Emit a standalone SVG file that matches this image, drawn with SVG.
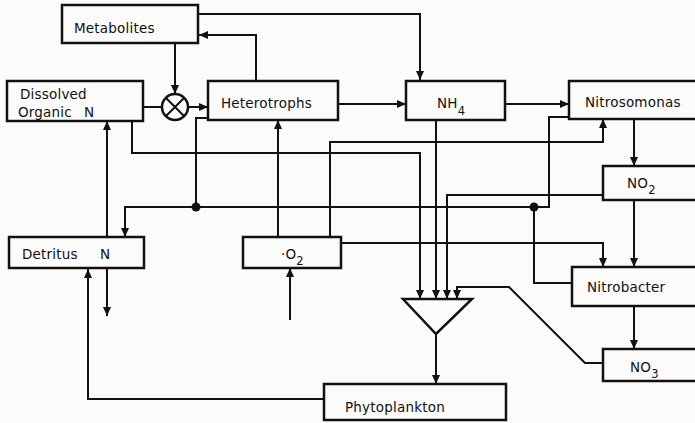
<svg xmlns="http://www.w3.org/2000/svg" width="695" height="423" viewBox="0 0 695 423">
<defs>
<marker id="ah" markerUnits="userSpaceOnUse" markerWidth="10" markerHeight="8" refX="9" refY="4" orient="auto">
<path d="M0,0 L9,4 L0,8 Z" fill="#111"/>
</marker>
<style>
.box{fill:#fbfbfa;stroke:#111;stroke-width:2.5}
.ln{fill:none;stroke:#111;stroke-width:2}
.ar{marker-end:url(#ah)}
text{font-family:"DejaVu Sans","Liberation Sans",sans-serif;font-size:13.5px;fill:#111;letter-spacing:0.2px}
.sub{font-size:11.5px}
</style>
</defs>
<rect width="695" height="423" fill="#fbfbfa"/>
<g id="connectors">
<path class="ln ar" d="M198,14 H420 V80"/>
<path class="ln ar" d="M256,81 V35 H199"/>
<path class="ln ar" d="M175,43 V94"/>
<path class="ln" d="M143,107 H162"/>
<path class="ln ar" d="M188,107 H208"/>
<path class="ln ar" d="M338,104 H406"/>
<path class="ln ar" d="M505,104 H569"/>
<path class="ln ar" d="M634,119 V166"/>
<path class="ln ar" d="M634,200 V267"/>
<path class="ln ar" d="M634,306 V349"/>
<path class="ln ar" d="M132,121 V153 H420 V299"/>
<path class="ln ar" d="M436,120 V299"/>
<path class="ln ar" d="M603,195 H447 V299"/>
<path class="ln ar" d="M603,363 H585 L509,287 H457 V299"/>
<path class="ln ar" d="M436,334 V384"/>
<path class="ln ar" d="M324,399 H88 V269"/>
<path class="ln ar" d="M107,237 V121"/>
<path class="ln ar" d="M107,269 V316"/>
<path class="ln ar" d="M290,320 V268"/>
<path class="ln ar" d="M278,237 V120"/>
<path class="ln ar" d="M330,237 V142 H603 V119"/>
<path class="ln ar" d="M341,243 H603 V267"/>
<path class="ln ar" d="M208,118 H196 V207 H125 V237"/>
<path class="ln" d="M569,117 H549 V207 H196"/>
<path class="ln" d="M572,283 H534 V207"/>
<circle cx="196" cy="207" r="4.5" fill="#111"/>
<circle cx="534" cy="207" r="4.5" fill="#111"/>
</g>
<g id="metabolites"><rect class="box" x="62" y="5" width="136" height="38"/><text x="74" y="33">Metabolites</text></g>
<g id="dissolved-organic-n"><rect class="box" x="7" y="81" width="136" height="40"/><text x="20" y="99">Dissolved</text><text x="18" y="117">Organic<tspan x="84">N</tspan></text></g>
<g id="junction"><circle cx="175" cy="107" r="13" fill="#fbfbfa" stroke="#111" stroke-width="2.5"/><path class="ln" d="M166,98 L184,116 M184,98 L166,116"/></g>
<g id="heterotrophs"><rect class="box" x="208" y="81" width="130" height="39"/><text x="221" y="108">Heterotrophs</text></g>
<g id="nh4"><rect class="box" x="406" y="81" width="99" height="39"/><text x="437" y="108">NH<tspan class="sub" dy="7">4</tspan></text></g>
<g id="nitrosomonas"><rect class="box" x="569" y="81" width="140" height="38"/><text x="585" y="107">Nitrosomonas</text></g>
<g id="no2"><rect class="box" x="603" y="166" width="110" height="34"/><text x="627" y="188">NO<tspan class="sub" dy="6">2</tspan></text></g>
<g id="nitrobacter"><rect class="box" x="572" y="267" width="140" height="39"/><text x="587" y="292">Nitrobacter</text></g>
<g id="no3"><rect class="box" x="603" y="349" width="110" height="32"/><text x="630" y="372">NO<tspan class="sub" dy="6">3</tspan></text></g>
<g id="detritus-n"><rect class="box" x="9" y="237" width="135" height="31"/><text x="22" y="259">Detritus<tspan x="100">N</tspan></text></g>
<g id="o2"><rect class="box" x="243" y="237" width="98" height="31"/><text x="281" y="259">·O<tspan class="sub" dy="6">2</tspan></text></g>
<g id="uptake"><polygon points="403,299 472,299 436,334" fill="#fbfbfa" stroke="#111" stroke-width="2.5" stroke-linejoin="miter"/></g>
<g id="phytoplankton"><rect class="box" x="324" y="384" width="182" height="36"/><text x="345" y="412">Phytoplankton</text></g>
</svg>
